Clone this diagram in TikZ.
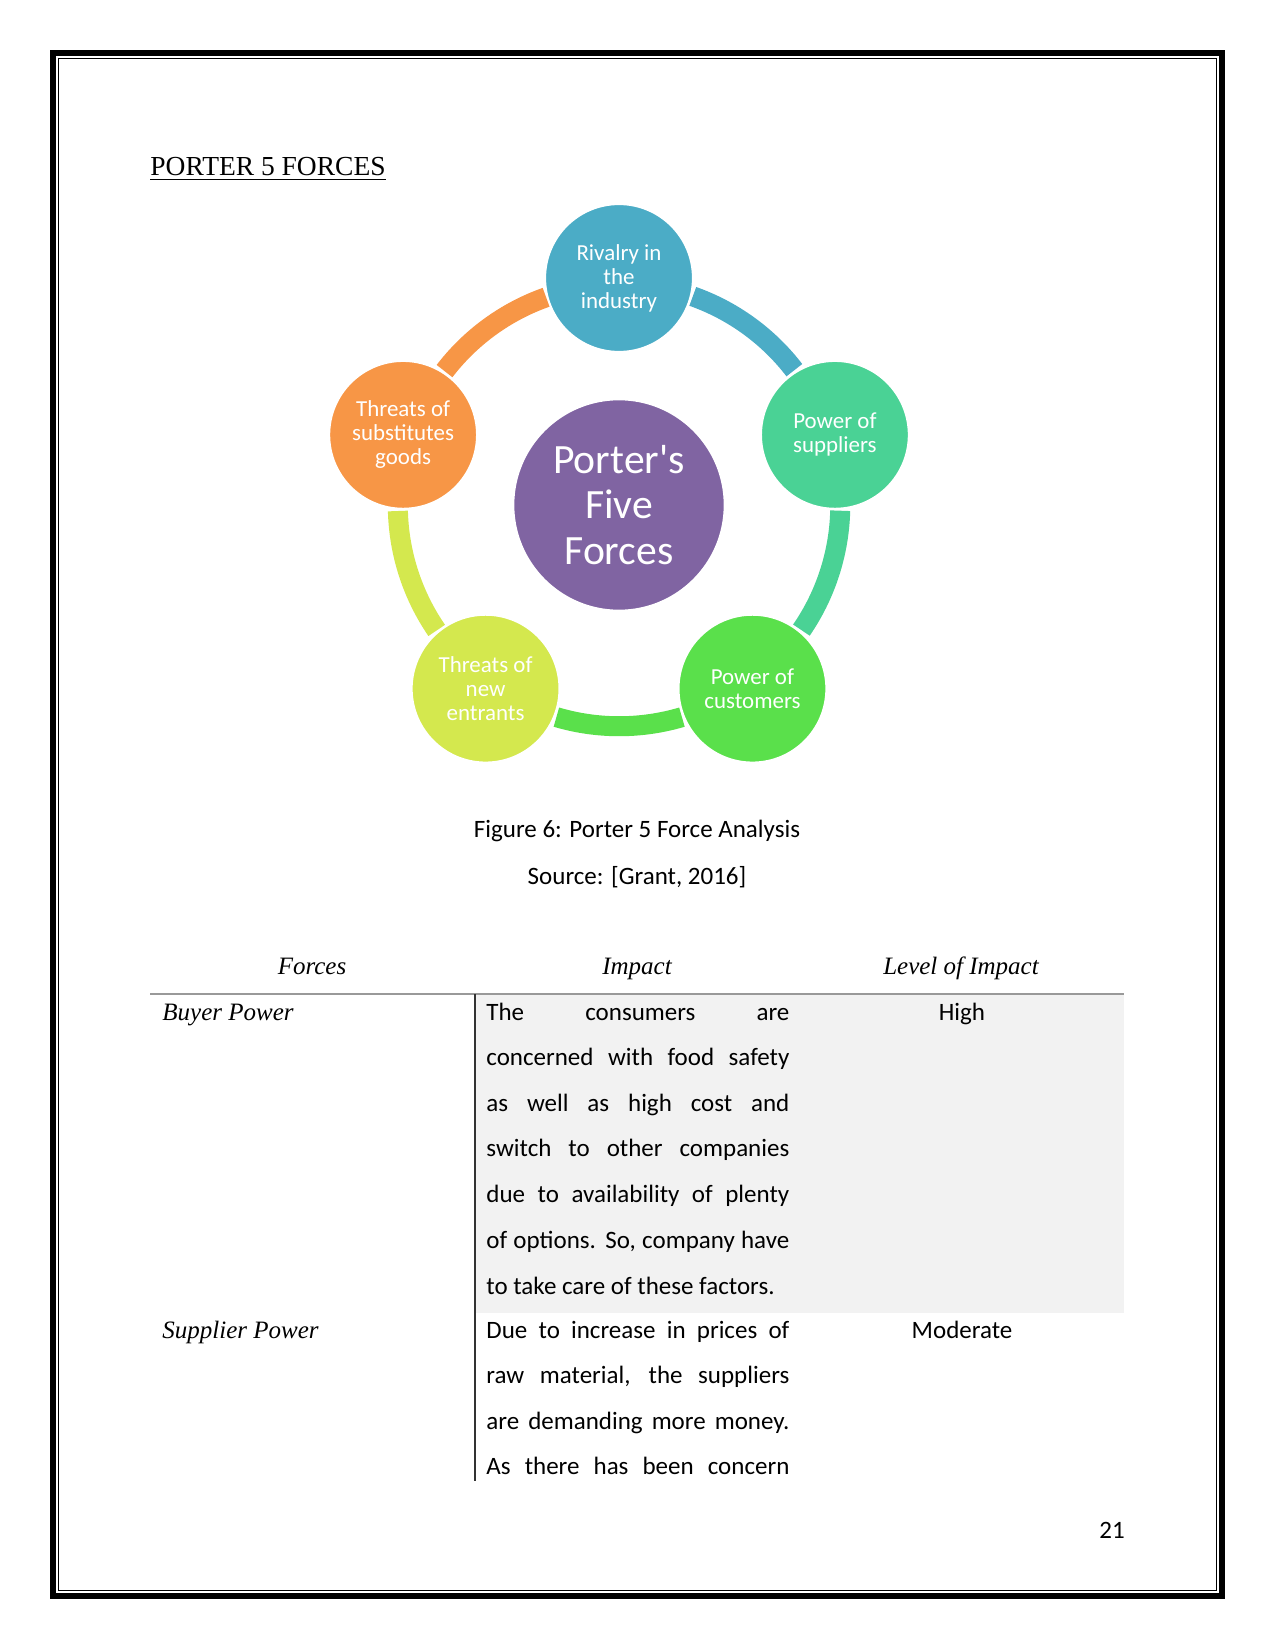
\documentclass[tikz,border=0pt]{standalone}
\usepackage{fontspec}
\setmainfont{Carlito}
\newfontfamily\cambria{Liberation Serif}
\usepackage{xcolor}
\definecolor{rivcol}{HTML}{4BACC6}
\definecolor{supcol}{HTML}{4AD295}
\definecolor{cuscol}{HTML}{5AE04B}
\definecolor{newcol}{HTML}{D4E84E}
\definecolor{subcol}{HTML}{F79646}
\definecolor{hubcol}{HTML}{8064A2}
\definecolor{cellgray}{HTML}{F2F2F2}
\usepackage{tikz}
\usetikzlibrary{calc}
\newlength{\impw}\setlength{\impw}{145.4pt}
\newcommand{\jline}[1]{\makebox[\impw][s]{#1}}

\begin{document}
\begin{tikzpicture}[x=0.48pt,y=0.48pt,
  force/.style={circle,fill=#1,draw=white,line width=1.5pt,minimum size=71.5pt,inner sep=0pt,text=white,align=center,font=\fontsize{11}{11.5}\selectfont},
  ring/.style={line width=9.6pt},
  cell/.style={anchor=base west,inner sep=0pt,font=\fontsize{12}{14}\selectfont},
  head/.style={anchor=base,inner sep=0pt,font=\cambria\itshape\fontsize{12}{14}\selectfont}]
  \useasboundingbox (0,0) rectangle (1275,-1651);
  % page frame
  \draw[line width=2.9pt] (53,-53) rectangle (1222,-1596);
  \draw[line width=0.7pt] (58.5,-58.5) rectangle (1216.5,-1590.5);
  \node[anchor=base west,inner sep=0pt,font=\cambria\fontsize{13.2}{15}\selectfont] (title) at (150,-176) {\underline{PORTER 5 FORCES}};
  % five forces cycle
  \node[force=hubcol,minimum size=102pt,font=\fontsize{20}{22}\selectfont] (hub) at (619,-505) {Porter\textquotesingle s\\Five\\Forces};
  \node[force=rivcol] (rivalry) at ($(hub)+(90:227)$) {Rivalry in\\the\\industry};
  \node[force=supcol] (suppliers) at ($(hub)+(18:227)$) {Power of\\suppliers};
  \node[force=cuscol] (customers) at ($(hub)+(-54:227)$) {Power of\\customers};
  \node[force=newcol] (entrants) at ($(hub)+(-126:227)$) {Threats of\\new\\entrants};
  \node[force=subcol] (substitutes) at ($(hub)+(162:227)$) {Threats of\\substitutes\\goods};
  \foreach \p/\a/\col [evaluate=\a as \st using \a-104.2] in {rivalry/90/rivcol,suppliers/18/supcol,customers/-54/cuscol,entrants/-126/newcol,substitutes/162/subcol}
    \draw[ring,\col] (\p.\st) arc[start angle=\a-19.5, end angle=\a-52.5, radius=221];
  % caption
  \node[font=\fontsize{12}{14}\selectfont] (cap) at (637,-831) {Figure 6: Porter 5 Force Analysis};
  \node[font=\fontsize{12}{14}\selectfont] (src) at (637,-877) {Source: [Grant, 2016]};
  % table
  \fill[cellgray] (476,-995) rectangle (1124,-1313);
  \draw[gray!80,line width=0.5pt] (150,-994) -- (1124,-994);
  \draw[black!80,line width=0.5pt] (475,-994) -- (475,-1481);
  \node[head] (hforce) at (312,-974) {Forces};
  \node[head] (himpact) at (637,-974) {Impact};
  \node[head] (hlevel) at (961,-974) {Level of Impact};
  \node[cell,font=\cambria\itshape\fontsize{12}{14}\selectfont] (buyer) at (162,-1020) {Buyer Power};
  \foreach \t [count=\i from 0] in {The consumers are,concerned with food safety,as well as high cost and,switch to other companies,due to availability of plenty,{of options. So, company have}}
    \node[cell] (buy\i) at (486,-1020-45.6*\i) {\jline{\t}};
  \node[cell] (buy6) at (486,-1294) {to take care of these factors.};
  \node[cell,anchor=base] (high) at (962,-1020) {High};
  \node[cell,font=\cambria\itshape\fontsize{12}{14}\selectfont] (supplier) at (162,-1338) {Supplier Power};
  \foreach \t [count=\i from 0] in {Due to increase in prices of,{raw material, the suppliers},are demanding more money.,As there has been concern}
    \node[cell] (sup\i) at (486,-1338-45.6*\i) {\jline{\t}};
  \node[cell,anchor=base] (moderate) at (962,-1338) {Moderate};
  \node[font=\fontsize{12}{14}\selectfont] (pnum) at (1112,-1530) {21};
\end{tikzpicture}
\end{document}
